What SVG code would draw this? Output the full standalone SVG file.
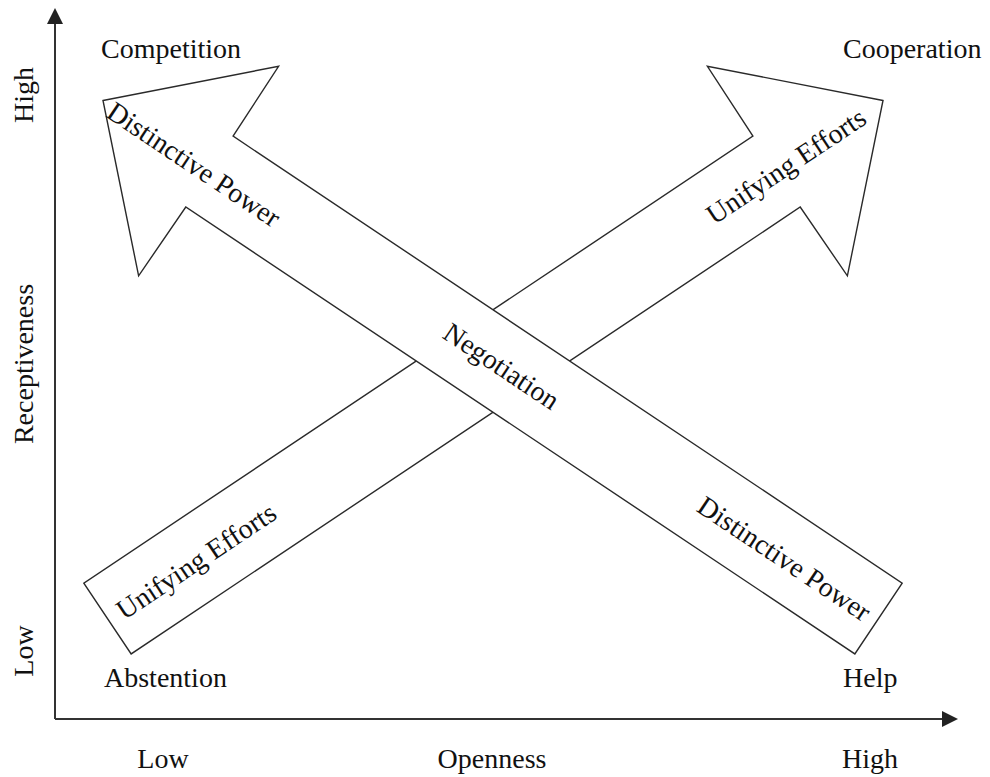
<svg xmlns="http://www.w3.org/2000/svg" width="990" height="777" viewBox="0 0 990 777">
  <style>
    text { font-family: "Liberation Serif", "Times New Roman", serif; font-size: 28px; fill: #111; }
    .band { fill: #fff; stroke: #2a2a2a; stroke-width: 1.4; stroke-linejoin: miter; }
    .axis { stroke: #333; stroke-width: 2; fill: none; }
    .mid { text-anchor: middle; }
  </style>
  <defs>
    <marker id="axisHead" viewBox="0 0 16 16" refX="2" refY="8" markerWidth="16" markerHeight="16" markerUnits="userSpaceOnUse" orient="auto">
      <path d="M0,0 L16,8 L0,16 Z" fill="#222"/>
    </marker>
  </defs>
  <rect width="990" height="777" fill="#fff"/>

  <!-- axes -->
  <g id="axes">
    <line class="axis" x1="55" y1="719" x2="55" y2="22" marker-end="url(#axisHead)"/>
    <line class="axis" x1="55" y1="719" x2="944" y2="719" marker-end="url(#axisHead)"/>
  </g>

  <!-- broad arrows, ascending drawn first, descending overlaps it -->
  <g id="connectors">
    <g id="arrow-unifying" transform="translate(493,361) rotate(-33.74)">
      <polygon class="band" points="469,0 342,-126 341,-42.6 -463.6,-42.6 -463.6,42.6 341,42.6 342,126"/>
      <text class="mid" x="-358" y="11">Unifying Efforts</text>
      <text class="mid" x="352" y="10">Unifying Efforts</text>
    </g>
    <g id="arrow-distinctive" transform="translate(493,361) rotate(33.74)">
      <polygon class="band" points="-469,0 -342,-126 -341,-42.6 463.6,-42.6 463.6,42.6 -341,42.6 -342,126"/>
      <text class="mid" x="-358" y="12">Distinctive Power</text>
      <text class="mid" x="10" y="9">Negotiation</text>
      <text class="mid" x="352" y="12">Distinctive Power</text>
    </g>
  </g>

  <!-- corner states -->
  <g id="node-competition"><text x="101" y="58">Competition</text></g>
  <g id="node-cooperation"><text x="843" y="58">Cooperation</text></g>
  <g id="node-abstention"><text x="104" y="687">Abstention</text></g>
  <g id="node-help"><text x="843" y="687">Help</text></g>

  <!-- axis labels -->
  <g id="labels-y">
    <text class="mid" transform="translate(33,95) rotate(-90)">High</text>
    <text class="mid" transform="translate(33,364) rotate(-90)">Receptiveness</text>
    <text class="mid" transform="translate(33,651) rotate(-90)">Low</text>
  </g>
  <g id="labels-x">
    <text class="mid" x="163" y="768">Low</text>
    <text class="mid" x="492" y="768">Openness</text>
    <text class="mid" x="870" y="768">High</text>
  </g>
</svg>
